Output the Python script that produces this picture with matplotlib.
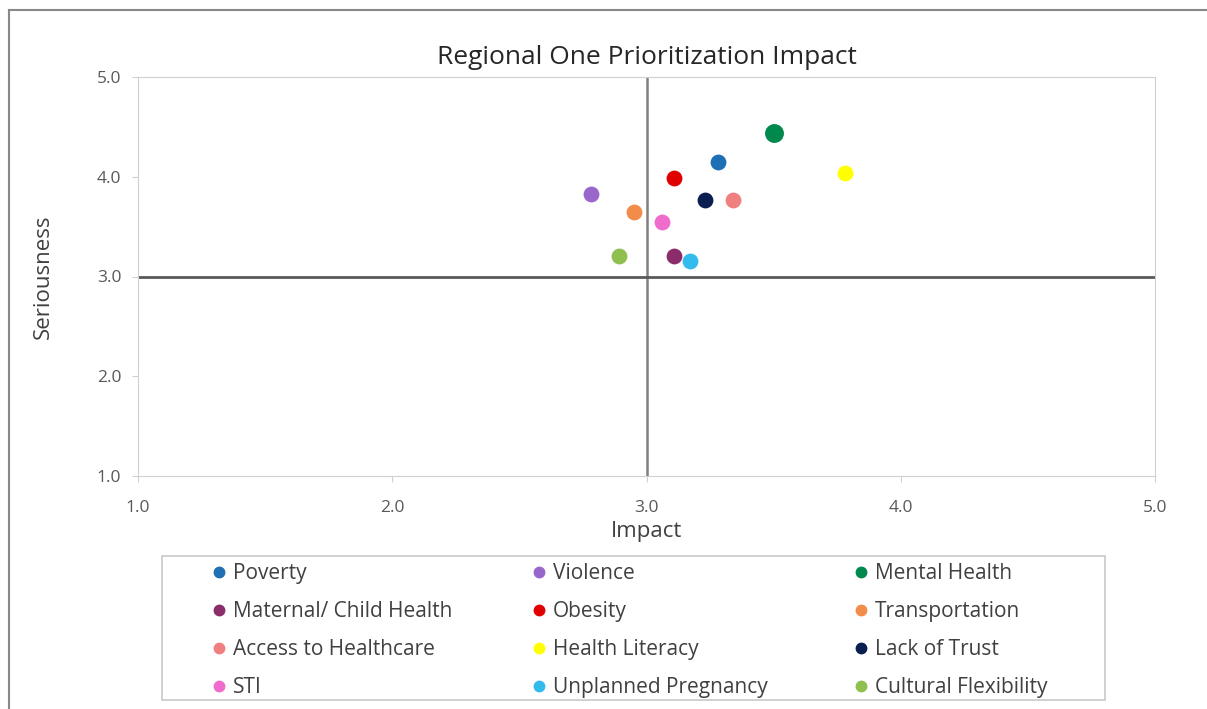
import matplotlib.pyplot as plt
from matplotlib.lines import Line2D
from matplotlib.patches import Rectangle

plt.rcParams['font.family'] = ['Open Sans', 'DejaVu Sans']

issues = ["Poverty", "Violence", "Mental Health",
          "Maternal/ Child Health", "Obesity", "Transportation",
          "Access to Healthcare", "Health Literacy", "Lack of Trust",
          "STI", "Unplanned Pregnancy", "Cultural Flexibility"]
impact = [3.28, 2.78, 3.50, 3.11, 3.11, 2.95, 3.34, 3.78, 3.23, 3.06, 3.17, 2.89]
seriousness = [4.15, 3.83, 4.44, 3.21, 3.99, 3.65, 3.77, 4.04, 3.77, 3.55, 3.16, 3.21]
colors = ["#1f6fb4", "#9966cc", "#00894c", "#8b2c6b", "#e00000", "#f28c4a",
          "#f08080", "#ffff00", "#0a1f4f", "#f06ccc", "#33bbee", "#8fc04f"]
sizes = [130, 130, 185, 130, 130, 130, 130, 130, 130, 130, 130, 130]

W, H = 1207, 709
fig = plt.figure(figsize=(W / 100, H / 100), dpi=100)
ax = fig.add_axes([138 / W, 1 - 476 / H, (1155 - 138) / W, (476 - 77) / H])

# quadrant lines at the midpoint
ax.axvline(3.0, color="#808080", lw=1.8, zorder=1)
ax.axhline(3.0, color="#595959", lw=2.0, zorder=1)

for name, x, y, c, s in zip(issues, impact, seriousness, colors, sizes):
    ax.scatter(x, y, s=s, color=c, label=name, zorder=3, linewidths=0)

ticks = [1, 2, 3, 4, 5]
ax.set_xlim(1, 5)
ax.set_ylim(1, 5)
ax.set_xticks(ticks)
ax.set_yticks(ticks)
ax.set_xticklabels([f"{t:.1f}" for t in ticks])
ax.set_yticklabels([f"{t:.1f}" for t in ticks])
ax.tick_params(colors="#d0d0d0", labelcolor="#595959", labelsize=12.5, length=4, pad=8)
ax.tick_params(axis="x", pad=13)
for sp in ax.spines.values():
    sp.set_color("#d0d0d0")

ax.set_title("Regional One Prioritization Impact", fontsize=19, color="#262626", pad=9)
ax.set_xlabel("Impact", fontsize=16, color="#404040")
ax.set_ylabel("Seriousness", fontsize=16, color="#404040")
ax.xaxis.set_label_coords(0.5, (476 - 521) / 399)
ax.yaxis.set_label_coords((54 - 138) / 1017, 0.5)

# legend: three columns, filled row by row
fig.add_artist(Rectangle((162 / W, 1 - 700 / H), 943 / W, 144 / H, transform=fig.transFigure,
                         fill=False, edgecolor="#c8c8c8", lw=1.2))
col_x = [209, 529, 851]
for k, x0 in enumerate(col_x):
    idx = range(k, len(issues), 3)
    handles = [Line2D([], [], marker="o", ls="", color=colors[i], markersize=7.5) for i in idx]
    labels = [issues[i] for i in idx]
    leg = fig.legend(handles, labels, loc="upper left", bbox_to_anchor=(x0 / W, 1 - 563 / H),
                     fontsize=15, frameon=False, handletextpad=0.15, labelspacing=0.82,
                     handlelength=1.0, borderpad=0, borderaxespad=0)
    for t in leg.get_texts():
        t.set_color("#404040")

# outer chart border
fig.add_artist(Line2D([9 / W, 9 / W], [0, 1 - 10 / H], color="#888888", lw=1.5))
fig.add_artist(Line2D([9 / W, 1], [1 - 10 / H, 1 - 10 / H], color="#888888", lw=1.5))

fig.savefig("out.png", dpi=100)
